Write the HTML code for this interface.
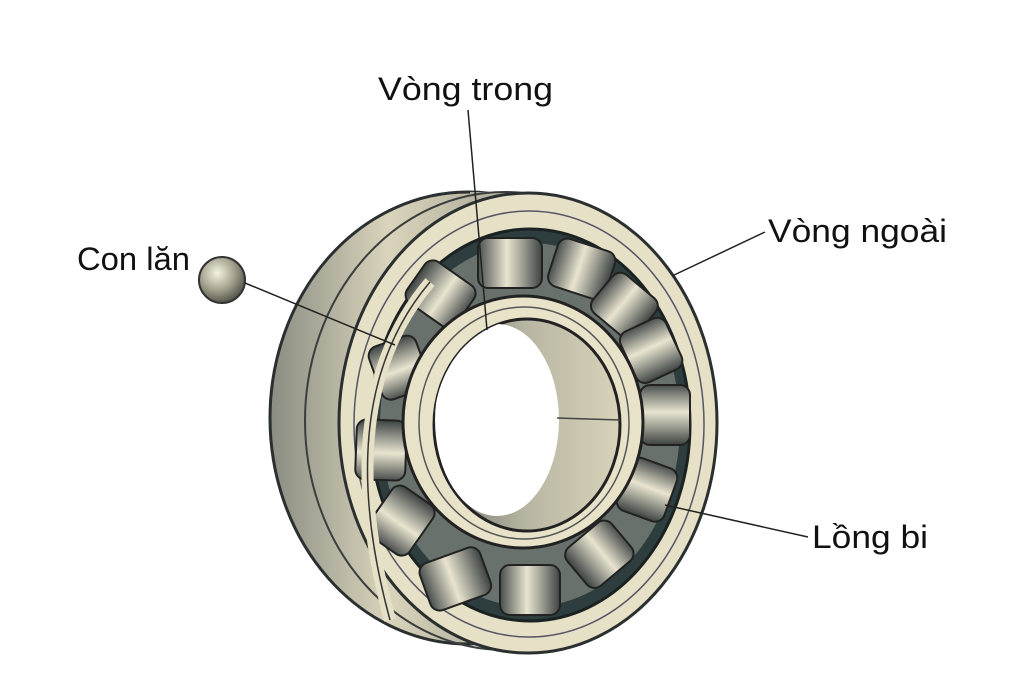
<!DOCTYPE html>
<html><head><meta charset="utf-8"><style>
html,body{margin:0;padding:0;background:#fff;}
svg{display:block}
text{font-family:"Liberation Sans","DejaVu Sans",sans-serif;font-size:32px;fill:#111;}
</style></head><body>
<svg width="1024" height="683" viewBox="0 0 1024 683" xmlns="http://www.w3.org/2000/svg">
<defs>
<linearGradient id="side" x1="0" y1="0" x2="1" y2="0">
<stop offset="0" stop-color="#8a8c82"/><stop offset="0.3" stop-color="#d9d4bb"/><stop offset="0.6" stop-color="#a9a898"/><stop offset="1" stop-color="#6a6e68"/></linearGradient>
<linearGradient id="roll" x1="0" y1="0" x2="1" y2="0">
<stop offset="0" stop-color="#4a4f4e"/><stop offset="0.45" stop-color="#e8e4cf"/><stop offset="0.7" stop-color="#9c9d92"/><stop offset="1" stop-color="#3d4342"/></linearGradient>
<radialGradient id="ball" cx="0.4" cy="0.35" r="0.7">
<stop offset="0" stop-color="#f4f1e2"/><stop offset="0.5" stop-color="#a9a793"/><stop offset="1" stop-color="#4a4a40"/></radialGradient>
<linearGradient id="bore" x1="0" y1="0" x2="1" y2="0">
<stop offset="0" stop-color="#6f736d"/><stop offset="0.5" stop-color="#b8b6a3"/><stop offset="1" stop-color="#d8d3b9"/></linearGradient>
<clipPath id="hole"><ellipse cx="527" cy="425" rx="93" ry="106"/></clipPath>
</defs>

<ellipse cx="468" cy="418" rx="198" ry="226" fill="url(#side)" stroke="#2a2f2f" stroke-width="3"/>
<path d="M470 192 L528 193 L528 653 L470 644 Z" fill="#b8b5a0"/>
<ellipse cx="505" cy="421" rx="200" ry="229" fill="none" stroke="#3a3f3e" stroke-width="2"/>
<ellipse cx="528" cy="423" rx="189" ry="230" fill="#e6e0c6" stroke="#2a2f2f" stroke-width="3"/>
<ellipse cx="529" cy="424" rx="175" ry="213" fill="none" stroke="#556" stroke-width="1.5"/>
<ellipse cx="530" cy="425" rx="160" ry="196" fill="#2e3d3e" stroke="#1a2222" stroke-width="3"/>
<ellipse cx="530" cy="425" rx="150" ry="182" fill="#69716c"/>
<g stroke="#222" stroke-width="2">
<g transform="translate(510,262)"><rect x="-32" y="-24" width="64" height="50" rx="10" fill="url(#roll)"/></g>
<g transform="translate(582,268) rotate(18)"><rect x="-30" y="-24" width="60" height="50" rx="10" fill="url(#roll)"/></g>
<g transform="translate(625,305) rotate(40)"><rect x="-28" y="-24" width="56" height="50" rx="10" fill="url(#roll)"/></g>
<g transform="translate(652,350) rotate(65)"><rect x="-28" y="-24" width="56" height="50" rx="10" fill="url(#roll)"/></g>
<g transform="translate(665,415) rotate(90)"><rect x="-30" y="-25" width="60" height="50" rx="10" fill="url(#roll)"/></g>
<g transform="translate(648,490) rotate(110)"><rect x="-28" y="-24" width="56" height="50" rx="10" fill="url(#roll)"/></g>
<g transform="translate(600,555) rotate(140)"><rect x="-29" y="-24" width="58" height="50" rx="10" fill="url(#roll)"/></g>
<g transform="translate(530,590)"><rect x="-30" y="-25" width="60" height="50" rx="10" fill="url(#roll)"/></g>
<g transform="translate(455,578) rotate(-20)"><rect x="-32" y="-24" width="64" height="50" rx="10" fill="url(#roll)"/></g>
<g transform="translate(400,520) rotate(-55)"><rect x="-30" y="-24" width="60" height="50" rx="10" fill="url(#roll)"/></g>
<g transform="translate(380,450) rotate(-88)"><rect x="-30" y="-24" width="60" height="50" rx="10" fill="url(#roll)"/></g>
<g transform="translate(398,368) rotate(-110)"><rect x="-28" y="-24" width="56" height="50" rx="10" fill="url(#roll)"/></g>
<g transform="translate(440,295) rotate(-145)"><rect x="-30" y="-24" width="60" height="50" rx="10" fill="url(#roll)"/></g>
</g>
<path d="M430 282 Q330 400 390 620" fill="none" stroke="#e6e0c6" stroke-width="12"/>
<path d="M430 282 Q330 400 390 620" fill="none" stroke="#333" stroke-width="1.5"/>
<ellipse cx="523" cy="422" rx="120" ry="126" fill="#e8e2c9" stroke="#222" stroke-width="3"/>
<ellipse cx="524" cy="423" rx="105" ry="116" fill="none" stroke="#555" stroke-width="1.5"/>
<ellipse cx="527" cy="425" rx="93" ry="106" fill="url(#bore)" stroke="#222" stroke-width="3"/>
<g clip-path="url(#hole)">
<ellipse cx="497" cy="420" rx="62" ry="96" fill="#fff"/>
</g>
<line x1="557" y1="418" x2="620" y2="420" stroke="#444" stroke-width="1.5"/>

<circle cx="222" cy="280" r="23" fill="url(#ball)" stroke="#333" stroke-width="2"/>

<g stroke="#222" stroke-width="1.5" fill="none">
<line x1="468" y1="110" x2="487" y2="330"/>
<line x1="765" y1="232" x2="672" y2="276"/>
<line x1="245" y1="283" x2="395" y2="345"/>
<line x1="808" y1="537" x2="665" y2="505"/>
</g>

<text x="378" y="100" textLength="175" lengthAdjust="spacingAndGlyphs">Vòng trong</text>
<text x="768" y="242" textLength="179" lengthAdjust="spacingAndGlyphs">Vòng ngoài</text>
<text x="77" y="270" textLength="113" lengthAdjust="spacingAndGlyphs">Con lăn</text>
<text x="812" y="548" textLength="116" lengthAdjust="spacingAndGlyphs">Lồng bi</text>
</svg>
</body></html>
